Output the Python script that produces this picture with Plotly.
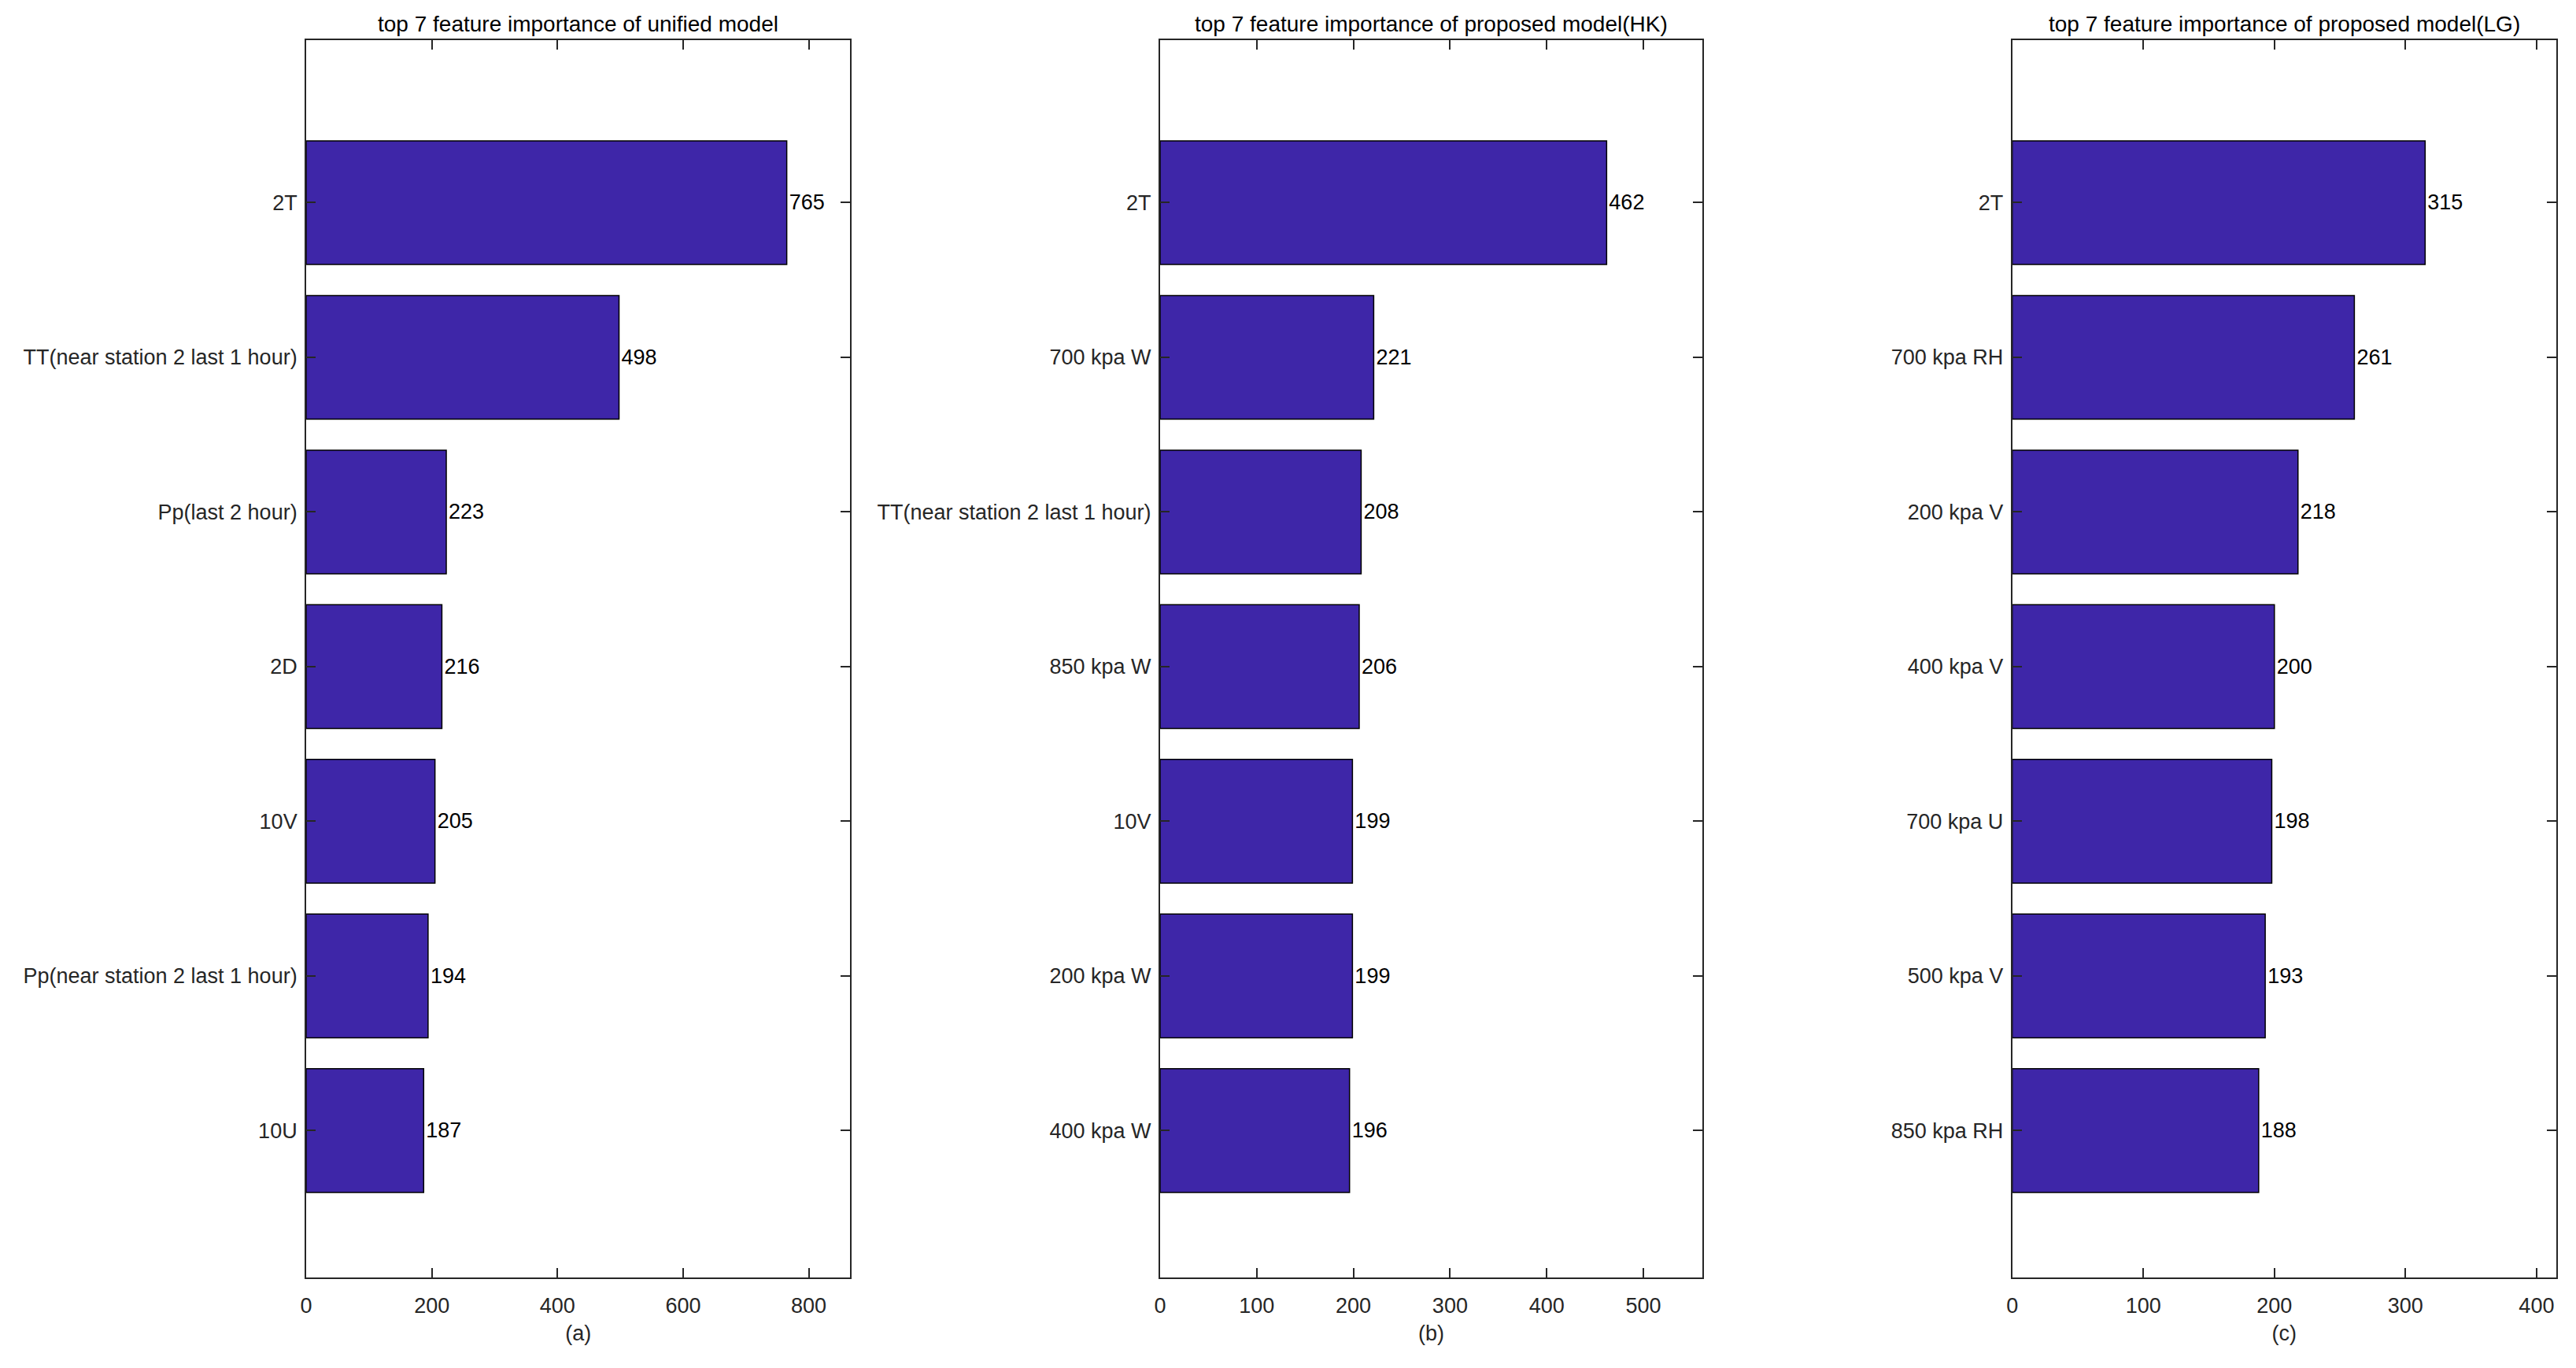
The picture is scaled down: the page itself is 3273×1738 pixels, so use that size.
import plotly.graph_objects as go
from plotly.subplots import make_subplots

# ---- data ----
labels_a = ["2T", "TT(near station 2 last 1 hour)", "Pp(last 2 hour)", "2D", "10V",
            "Pp(near station 2 last 1 hour)", "10U"]
values_a = [765, 498, 223, 216, 205, 194, 187]

labels_b = ["2T", "700 kpa W", "TT(near station 2 last 1 hour)", "850 kpa W", "10V",
            "200 kpa W", "400 kpa W"]
values_b = [462, 221, 208, 206, 199, 199, 196]

labels_c = ["2T", "700 kpa RH", "200 kpa V", "400 kpa V", "700 kpa U", "500 kpa V",
            "850 kpa RH"]
values_c = [315, 261, 218, 200, 198, 193, 188]

titles = ["top 7 feature importance of unified model",
          "top 7 feature importance of proposed model(HK)",
          "top 7 feature importance of proposed model(LG)"]
sub_labels = ["(a)", "(b)", "(c)"]
x_ticks = [[0, 200, 400, 600, 800], [0, 100, 200, 300, 400, 500], [0, 100, 200, 300, 400]]
x_max = [866, 561, 415]

# ---- style ----
BAR = "rgb(62,38,168)"
AX = "#262626"
FONT = "Liberation Sans, Arial, sans-serif"
FS = 27
FS_T = 28
W, H = 3273, 1738
dx = 8 / W
dy = 8 / H
domains = [(0.1167 - dx, 0.3284 - dx), (0.4490 - dx, 0.6600 - dx), (0.7806 - dx, 0.9923 - dx)]
ydom = (0.0661 + dy, 0.9724 + dy * 0.6)

fig = make_subplots(rows=1, cols=3)
series = [(labels_a, values_a), (labels_b, values_b), (labels_c, values_c)]
for i, (labs, vals) in enumerate(series):
    fig.add_trace(go.Bar(
        x=vals, y=labs, orientation="h", width=0.8,
        marker=dict(color=BAR, line=dict(color="#000000", width=1.5)),
        text=[str(v) for v in vals], textposition="outside", constraintext="none",
        cliponaxis=False,
        textfont=dict(family=FONT, size=FS, color="#000000"),
        showlegend=False,
    ), row=1, col=i + 1)

layout_updates = {}
for i in range(3):
    sfx = "" if i == 0 else str(i + 1)
    layout_updates["xaxis" + sfx] = dict(
        domain=list(domains[i]), range=[0, x_max[i]], tickvals=x_ticks[i],
        ticks="inside", ticklen=12, tickwidth=1.5, tickcolor=AX,
        showline=True, linecolor=AX, linewidth=2, mirror="ticks",
        showgrid=False, zeroline=False, ticklabelstandoff=10,
        tickfont=dict(family=FONT, size=FS, color="#262626"),
        title=dict(text=sub_labels[i], font=dict(family=FONT, size=FS, color="#262626"), standoff=12),
    )
    layout_updates["yaxis" + sfx] = dict(
        domain=list(ydom), type="category", range=[6.95, -1.05],
        ticks="inside", ticklen=12, tickwidth=1.5, tickcolor=AX,
        showline=True, linecolor=AX, linewidth=2, mirror="ticks",
        showgrid=False, zeroline=False, ticklabelstandoff=4,
        tickfont=dict(family=FONT, size=FS, color="#262626"),
    )
fig.update_layout(**layout_updates)

annotations = []
for i in range(3):
    annotations.append(dict(
        text=titles[i], xref="paper", yref="paper",
        x=(domains[i][0] + domains[i][1]) / 2, y=ydom[1] + 0.002,
        xanchor="center", yanchor="bottom", showarrow=False,
        font=dict(family=FONT, size=FS_T, color="#000000"),
    ))

fig.update_layout(
    width=W, height=H,
    margin=dict(l=0, r=0, t=0, b=0),
    paper_bgcolor="white", plot_bgcolor="white",
    annotations=annotations, bargap=0.2,
)

fig.write_html("out.html")
